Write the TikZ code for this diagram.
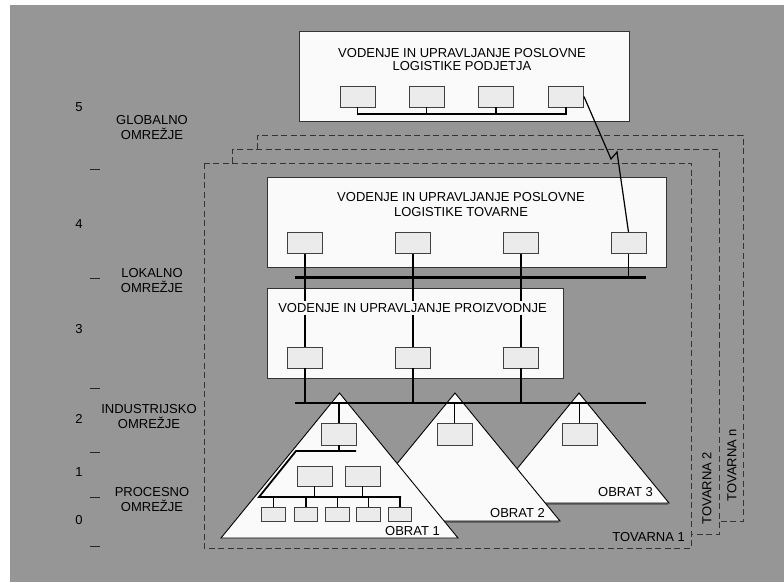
\documentclass[tikz,border=0pt]{standalone}
\usepackage{fontspec}
\setmainfont{Liberation Sans}
\definecolor{bg}{RGB}{150,150,150}
\definecolor{boxwhite}{RGB}{250,250,250}
\definecolor{unitgray}{RGB}{235,235,235}
\begin{document}
\begin{tikzpicture}[x=1pt,y=-1pt,
  lbl/.style={font=\fontsize{13}{15}\selectfont, inner sep=0pt, align=center, text=black},
  bigbox/.style={draw=black!80, line width=0.9pt, fill=boxwhite, inner sep=0pt},
  unit/.style={draw=black!75, line width=0.9pt, fill=unitgray, minimum width=35pt, minimum height=21pt, inner sep=0pt},
  smallunit/.style={unit, minimum width=23.5pt, minimum height=14pt},
  link/.style={line width=1.3pt, black},
  bus/.style={line width=2.2pt, black},
  plant/.style={draw=black, line width=0.9pt, fill=boxwhite, line join=miter},
  factory/.style={draw=black!80, line width=1pt, dash pattern=on 6pt off 3.5pt},
  tick/.style={line width=1pt, black!85}
]
\useasboundingbox (0,0) rectangle (784,582);
\fill[white] (0,0) rectangle (784,582);
\fill[bg] (10,5) rectangle (784,582);

% level scale
\foreach \n/\y in {5/107,4/224,3/329,2/419,1/472,0/520}
  \node[lbl] (lev\n) at (79,\y) {\n};
\foreach \y in {169,278,388,452,497,546}
  \draw[tick] (90,\y) -- (100,\y);

% network levels
\node[lbl] (globalno) at (152,127.5) {GLOBALNO\\OMREŽJE};
\node[lbl] (lokalno) at (152,280.5) {LOKALNO\\OMREŽJE};
\node[lbl] (industrijsko) at (149,416.5) {INDUSTRIJSKO\\OMREŽJE};
\node[lbl] (procesno) at (152,499.5) {PROCESNO\\OMREŽJE};

% factories (stacked dashed outlines)
\draw[factory] (257,149) -- (257,135) -- (743,135) -- (743,521) -- (719,521);
\draw[factory] (232,163) -- (232,149) -- (719,149) -- (719,534) -- (691,534);
\draw[factory] (204,163) rectangle (691,548);
\node[lbl, anchor=east] (tov1) at (685,537) {TOVARNA 1};
\node[lbl, rotate=90] (tov2) at (707,488) {TOVARNA 2};
\node[lbl, rotate=90] (tovn) at (732,465) {TOVARNA n};

% enterprise level
\node[bigbox, minimum width=330pt, minimum height=90pt] (P) at (464,76) {};
\node[lbl, font=\fontsize{13}{13.5}\selectfont] (Ptext) at (462,59.5)
  {VODENJE IN UPRAVLJANJE POSLOVNE\\LOGISTIKE PODJETJA};
\node[unit] (p1) at (357.5,96.5) {};
\node[unit] (p2) at (426.5,96.5) {};
\node[unit] (p3) at (496,96.5) {};
\node[unit] (p4) at (566,96.5) {};
\coordinate (busPR) at (566,114);
\draw[link, line width=1.5pt] (p1.south) |- (busPR) -- (p4.south);
\draw[link, line width=1.5pt] (p2.south) -- (p2.south |- busPR);
\draw[link, line width=1.5pt] (p3.south) -- (p3.south |- busPR);

% factory logistics level
\node[bigbox, minimum width=399pt, minimum height=90pt] (F) at (466.5,222) {};
\node[unit] (f1) at (305,243) {};
\node[unit] (f2) at (413,243) {};
\node[unit] (f3) at (521,243) {};
\node[unit] (f4) at (628.5,243) {};

% production level
\node[bigbox, minimum width=296pt, minimum height=90pt] (R) at (415,333) {};
\coordinate (bus1L) at (295,277.5);
\coordinate (bus1R) at (646,277.5);
\coordinate (bus2L) at (295,403);
\coordinate (bus2R) at (646,403);
\draw[link] (f1.south) -- (305,346.5);
\draw[link] (f2.south) -- (413,346.5);
\draw[link] (f3.south) -- (521,346.5);
\draw[link] (f4.south) -- (f4.south |- bus1R);
\draw[bus] (bus1L) -- (bus1R);
\node[lbl, fill=boxwhite, inner xsep=1pt, inner ysep=2pt] (Ftext) at (461,204.5)
  {VODENJE IN UPRAVLJANJE POSLOVNE\\LOGISTIKE TOVARNE};
\node[lbl, fill=boxwhite, inner xsep=1pt, inner ysep=2pt] (Rtext) at (412.5,308)
  {VODENJE IN UPRAVLJANJE PROIZVODNJE};
\node[unit] (r1) at (305,357.5) {};
\node[unit] (r2) at (413,357.5) {};
\node[unit] (r3) at (521,357.5) {};

% uplink from factory to enterprise
\coordinate (zz1) at (611,159);
\coordinate (zz2) at (617,152);
\draw[link, line width=1.2pt] (p4.east) -- (zz1) -- (zz2) -- (f4.north);

% plants
\draw[black!60, line width=1.5pt] (489,504) -- (668,504);
\draw[plant] (579,393) -- (669,503) -- (489,503) -- cycle;
\draw[black!60, line width=1.5pt] (350,522) -- (559,522);
\draw[plant] (455,393) -- (560,521) -- (350,521) -- cycle;
\draw[plant] (339.5,393) -- (458,538) -- (221,538) -- cycle;

\node[unit, minimum height=22pt] (o1) at (339,434) {};
\node[unit, minimum height=22pt] (o2) at (454.5,434) {};
\node[unit, minimum height=22pt] (o3) at (579.5,434) {};

\draw[link] (r1.south) -- (r1.south |- bus2L);
\draw[link] (r2.south) -- (r2.south |- bus2L);
\draw[link] (r3.south) -- (r3.south |- bus2L);
\draw[link] (o1.north) -- (o1.north |- bus2L);
\draw[link] (o2.north) -- (o2.north |- bus2L);
\draw[link] (o3.north) -- (o3.north |- bus2L);
\draw[bus] (bus2L) -- (bus2R);

% inside plant 1
\coordinate (cellR) at (356,451);
\coordinate (cellL) at (296,451);
\coordinate (fieldL) at (259,497);
\coordinate (fieldR) at (401,497);
\draw[link, line width=1.8pt] (cellR) -- (cellL) -- (fieldL) -- (fieldR);
\draw[link] (o1.south) -- (o1.south |- cellR);
\node[unit, minimum height=20pt] (m1) at (314.5,476) {};
\node[unit, minimum height=20pt] (m2) at (362.5,476) {};
\draw[link] (m1.south) -- (m1.south |- fieldR);
\draw[link] (m2.south) -- (m2.south |- fieldR);
\foreach \i/\x in {1/273.5,2/306,3/337.5,4/368.5,5/400}{
  \node[smallunit] (b\i) at (\x,514) {};
  \draw[link] (b\i.north) -- (b\i.north |- fieldR);
}

\node[lbl, anchor=east] (obrat1) at (440,531) {OBRAT 1};
\node[lbl, anchor=east] (obrat2) at (545,513) {OBRAT 2};
\node[lbl, anchor=east] (obrat3) at (653,492) {OBRAT 3};
\end{tikzpicture}
\end{document}
